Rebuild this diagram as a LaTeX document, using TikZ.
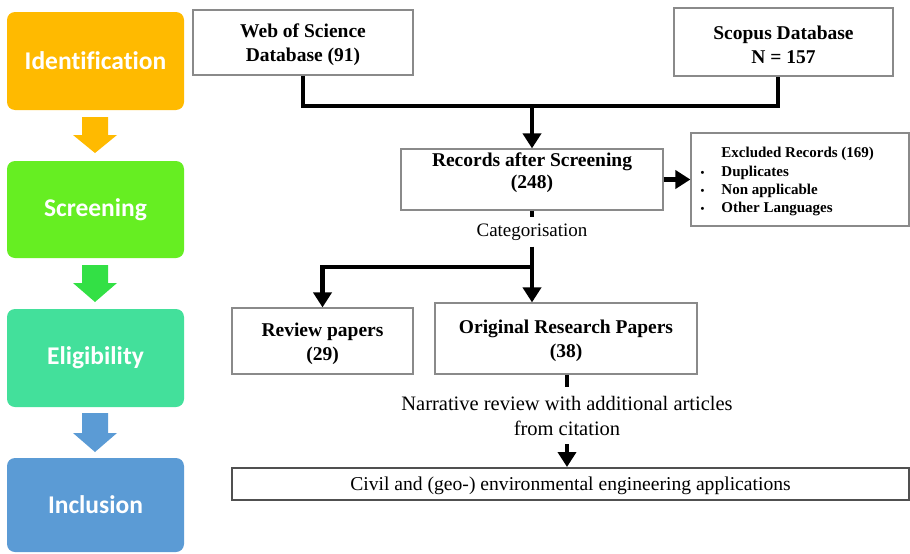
\documentclass[tikz,border=0pt]{standalone}
\usepackage{fontspec}
\setmainfont{Liberation Serif}
\newfontfamily\carlito[Ligatures=NoCommon]{Carlito}
\usetikzlibrary{arrows.meta,calc}
\definecolor{idc}{HTML}{FFBA00}
\definecolor{scc}{HTML}{66EE22}
\definecolor{sca}{HTML}{33E045}
\definecolor{elc}{HTML}{43E09B}
\definecolor{inc}{HTML}{5B9BD5}
\definecolor{bgray}{HTML}{8A8A8A}
\definecolor{dgray}{HTML}{505050}
\begin{document}
\begin{tikzpicture}[x=1pt,y=-1pt,
  stage/.style={rounded corners=8pt, minimum width=177pt, inner sep=0pt, text=white,
    font=\carlito\bfseries\fontsize{25.5}{30}\selectfont},
  gbox/.style={draw=bgray, line width=1.2pt, inner sep=0pt, align=center, text height=43pt,
    font=\bfseries\fontsize{19.5}{24}\selectfont},
  conn/.style={line width=4.8pt, line join=miter},
  arr/.style={conn, -{Triangle[width=18pt,length=15pt]}},
  plain/.style={align=center, inner sep=0pt}
]
\useasboundingbox (0,0) rectangle (910,554);

% left stages
\node[stage, fill=idc, minimum height=98pt] (id) at (95.5,61) {Identification};
\node[stage, fill=scc, minimum height=97pt] (sc) at (95.5,209.5) {Screening};
\node[stage, fill=elc, minimum height=98pt] (el) at (95.5,358) {Eligibility};
\node[stage, fill=inc, minimum height=94pt] (in) at (95.5,505) {Inclusion};

% block arrows between stages
\foreach \c/\ya/\yb/\yc in {idc/117/135/153, sca/265/283/302, inc/413/433/452}{
  \fill[\c] (82,\ya) -- (108,\ya) -- (108,\yb) -- (117,\yb) -- (95,\yc) -- (73,\yb) -- (82,\yb) -- cycle;
}

% top databases
\node[gbox, minimum width=220pt, minimum height=65pt] (wos) at (303,42.5) {Web of Science\\Database (91)};
\node[gbox, minimum width=219pt, minimum height=68pt] (sco) at (783.5,42) {Scopus Database\\N = 157};

% records after screening
\node[gbox, minimum width=262pt, minimum height=61pt] (rec) at (532,179.5) {};
\node[plain, anchor=north, font=\bfseries\fontsize{19.5}{21.5}\selectfont] (rect) at ($(rec.north)+(0,4.5)$) {Records after Screening\\(248)};

% excluded records
\node[draw=bgray, line width=1.2pt, minimum width=218pt, minimum height=93pt] (exc) at (800,179.5) {};
\node[anchor=west, inner sep=0pt, font=\bfseries\fontsize{15}{18.3}\selectfont] (exct) at ($(exc.west)+(10,2)$)
  {\begin{tabular}{@{}l@{\hspace{17pt}}l@{}}
   & Excluded Records (169)\\
   {\fontsize{11}{11}\selectfont\textbullet} & Duplicates\\
   {\fontsize{11}{11}\selectfont\textbullet} & Non applicable\\
   {\fontsize{11}{11}\selectfont\textbullet} & Other Languages
   \end{tabular}};

% categorisation
\node[plain, inner ysep=6pt, font=\fontsize{19}{23}\selectfont] (cat) at (532,232) {Categorisation};

% review / original
\node[gbox, minimum width=181pt, minimum height=66pt] (rev) at (322.5,341) {Review papers\\(29)};
\node[gbox, minimum width=262pt, minimum height=71pt] (ori) at (566,338.5) {Original Research Papers\\(38)};

% narrative
\node[plain, inner ysep=9pt, font=\fontsize{20.5}{25}\selectfont] (nar) at (567,415.5) {Narrative review with additional articles\\from citation};

% civil
\node[draw=dgray, line width=2pt, minimum width=677pt, minimum height=32pt, inner sep=0pt, text depth=0pt,
  font=\fontsize{19.6}{24}\selectfont] (civ) at (570.5,484) {Civil and (geo-) environmental engineering applications};

% connectors
\coordinate (m) at (532,106);
\coordinate (j) at (532,267);
\draw[conn] (wos.south) |- (m) -| ($(sco.south)+(-5.5,0)$);
\draw[arr] (m) -- (rec.north);
\draw[arr] (rec.east) -- (exc.west);
\draw[conn] (rec.south) -- (cat.north);
\draw[conn] (cat.south) -- (j);
\draw[arr] (j) -| (rev.north);
\draw[arr] (j) -- (ori.north -| j);
\draw[conn] (ori.south -| nar.north) -- (nar.north);
\draw[arr] (nar.south) -- (civ.north -| nar.south);
\end{tikzpicture}
\end{document}
